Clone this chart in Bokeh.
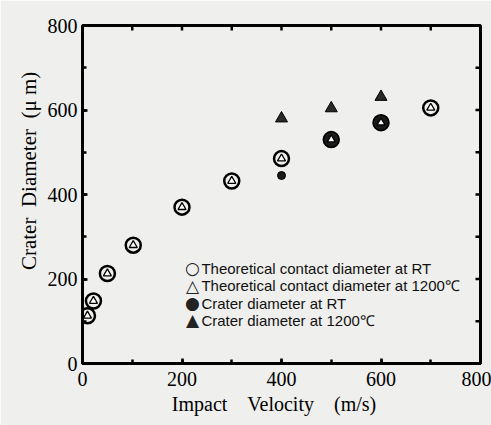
import math
from bokeh.plotting import figure
from bokeh.models import Range1d, SingleIntervalTicker, ColumnDataSource
from bokeh.core.properties import value
from bokeh.embed import file_html
from bokeh.resources import INLINE

# ---- data ----
velocity = [10, 22, 50, 102, 200, 300, 400, 500, 600, 700]
theory_rt = [113, 148, 213, 280, 370, 432, 485, 530, 570, 605]
theory_1200 = [113, 148, 213, 280, 370, 432, 485, 530, 570, 605]
crater_rt_v = [400, 500, 600]
crater_rt = [445, 530, 570]
crater_rt_size = [8, 15, 15]
crater_1200_v = [400, 500, 600]
crater_1200 = [580, 604, 631]

axis_min, axis_max = 0, 800
tick_values = [100, 200, 300, 400, 500, 600, 700]   # ticks mirrored on top / right

legend_symbols = ["\u25cb", "\u25b3", "\u25cf", "\u25b2"]
legend_labels = [
    "Theoretical contact diameter at RT",
    "Theoretical contact diameter at 1200\u2103",
    "Crater diameter at RT",
    "Crater diameter at 1200\u2103",
]

INK = "black"
BG = "#efefed"
SERIF = "Liberation Serif"
NB = "\u00a0"

p = figure(
    width=491, height=425,
    min_border_left=82, min_border_right=11, min_border_top=25, min_border_bottom=62,
    x_range=Range1d(axis_min, axis_max), y_range=Range1d(axis_min, axis_max),
    output_backend="svg", toolbar_location=None,
    background_fill_color=BG, border_fill_color=BG,
)
p.grid.visible = False
p.outline_line_color = INK
p.outline_line_width = 3

for ax in (p.xaxis[0], p.yaxis[0]):
    ax.ticker = SingleIntervalTicker(interval=200, num_minor_ticks=2)
    ax.axis_line_color = INK
    ax.axis_line_width = 3
    ax.major_tick_line_color = INK
    ax.minor_tick_line_color = INK
    ax.major_tick_line_width = 2.5
    ax.minor_tick_line_width = 2.5
    ax.major_tick_in = 5
    ax.major_tick_out = 0
    ax.minor_tick_in = 4
    ax.minor_tick_out = 0
    ax.major_label_text_font = SERIF
    ax.major_label_text_font_size = "20px"
    ax.major_label_text_color = INK
    ax.axis_label_text_font = SERIF
    ax.axis_label_text_font_style = "normal"
    ax.axis_label_text_color = INK

p.xaxis[0].major_label_standoff = 8
p.yaxis[0].major_label_standoff = 5
p.xaxis[0].axis_label = "Impact" + NB * 4 + "Velocity" + NB * 4 + "(m/s)" + NB * 3
p.xaxis[0].axis_label_text_font_size = "20px"
p.xaxis[0].axis_label_standoff = 4
p.yaxis[0].axis_label = NB * 9 + "Crater" + NB * 2 + "Diameter" + NB * 2 + "(\u03bc" + NB + "m)"
p.yaxis[0].axis_label_text_font_size = "21px"
p.yaxis[0].axis_label_standoff = 4

# mirrored ticks on the top and right frame edges (half clipped by the frame)
p.scatter(tick_values, [axis_max] * len(tick_values), marker="dash", angle=math.pi / 2,
          size=10, line_color=INK, line_width=2.5)
p.scatter([axis_max] * len(tick_values), tick_values, marker="dash",
          size=10, line_color=INK, line_width=2.5)

# theoretical contact diameter at RT (open circles)
p.scatter(velocity, theory_rt, marker="circle", size=15, line_color=INK,
          line_width=2.5, fill_color=BG)
# crater diameter at RT (filled circles)
p.scatter(crater_rt_v, crater_rt, marker="circle", size=crater_rt_size,
          line_color=INK, fill_color="#1a1a1a", line_width=1)
# theoretical contact diameter at 1200C (open triangles)
p.scatter(velocity, theory_1200, marker="triangle", size=8, line_color=INK,
          line_width=1.3, fill_color="white")
# crater diameter at 1200C (filled triangles)
p.scatter(crater_1200_v, crater_1200, marker="triangle", size=12,
          line_color=INK, fill_color="#2a2a2a", line_width=1)

# legend block: placed by data coordinates of its top-left line, stepped by a fixed line gap
leg_x_sym, leg_x_txt, leg_y0, leg_dy = 221, 239, 225, 41
leg_src = ColumnDataSource(dict(
    xs=[leg_x_sym] * 4,
    xt=[leg_x_txt] * 4,
    y=[leg_y0 - leg_dy * i for i in range(4)],
    sym=legend_symbols,
    txt=legend_labels,
))
p.text(x="xs", y="y", text="sym", source=leg_src, text_font=value("DejaVu Sans"),
       text_font_size="17px", text_color="#222222", text_baseline="middle",
       text_align="center")
p.text(x="xt", y="y", text="txt", source=leg_src, text_font=value("Liberation Sans"),
       text_font_size="15px", text_color="#111111", text_baseline="middle",
       text_align="left")

open("out.html", "w").write(file_html(p, INLINE))
